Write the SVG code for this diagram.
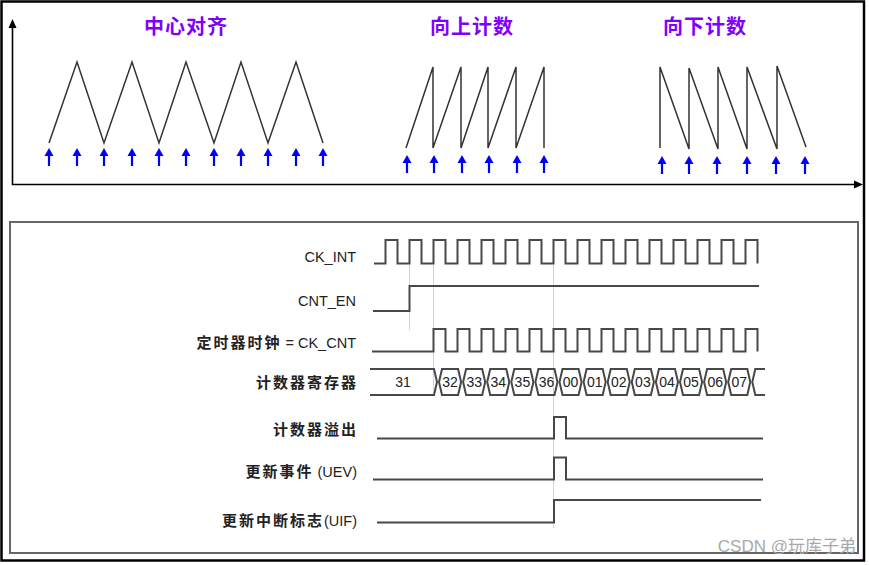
<svg xmlns="http://www.w3.org/2000/svg" width="869" height="565" viewBox="0 0 869 565">
<style>
  .title{font-family:"Noto Sans CJK SC","Liberation Sans",sans-serif;font-size:20px;font-weight:bold;fill:#8000ff;text-anchor:middle;letter-spacing:1px}
  .saw{fill:none;stroke:#333;stroke-width:1.5;stroke-linejoin:miter}
  .axis{fill:none;stroke:#000;stroke-width:1.6}
  .wave{fill:none;stroke:#484848;stroke-width:2;stroke-linejoin:miter}
  .guide{fill:none;stroke:#d4d4d4;stroke-width:1}
  .lbl{font-family:"Liberation Sans","Noto Sans CJK SC",sans-serif;font-size:14.5px;fill:#222;text-anchor:end}
  .cj{font-family:"Noto Sans CJK SC",sans-serif;font-size:15px;font-weight:bold;letter-spacing:2px}
  .num{font-family:"Liberation Sans",sans-serif;font-size:14px;fill:#222;text-anchor:middle}
  .wm{font-family:"Liberation Sans","Noto Sans CJK SC",sans-serif;font-size:17px;fill:#a8a8a8;text-anchor:end}
</style>
<defs>
  <g id="barrow">
    <path d="M0,0 L4.5,8 L-4.5,8 Z" fill="#0000ff"/>
    <rect x="-1.1" y="6" width="2.2" height="12" fill="#0000ff"/>
  </g>
</defs>
<rect x="0" y="0" width="869" height="565" fill="#fff"/>
<rect id="frame" x="1.5" y="1.5" width="862.5" height="559" fill="none" stroke="#000" stroke-width="2.5"/>

<!-- top: counting modes -->
<g id="axes">
  <path class="axis" d="M12.5,27 V184.5 H855"/>
  <path d="M12.5,19 L8.5,28 L16.5,28 Z" fill="#000"/>
  <path d="M863,184.5 L854,180.5 L854,188.5 Z" fill="#000"/>
</g>

<g id="center-aligned">
  <text class="title" x="186" y="34">中心对齐</text>
  <path class="saw" d="M49,143 L77,62 L104,143 L132,62 L159,143 L186,62 L214,143 L241,62 L268,143 L296,62 L323,143"/>
  <g transform="translate(0,148)">
    <use href="#barrow" x="49"/><use href="#barrow" x="77"/><use href="#barrow" x="104"/><use href="#barrow" x="132"/>
    <use href="#barrow" x="159"/><use href="#barrow" x="186"/><use href="#barrow" x="214"/><use href="#barrow" x="241"/>
    <use href="#barrow" x="268"/><use href="#barrow" x="296"/><use href="#barrow" x="323"/>
  </g>
</g>

<g id="up-counting">
  <text class="title" x="472" y="34">向上计数</text>
  <path class="saw" d="M406,148 L433,67 V148 L461,67 V148 L488,67 V148 L516,67 V148 L544,67 V148"/>
  <g transform="translate(0,155)">
    <use href="#barrow" x="407"/><use href="#barrow" x="434"/><use href="#barrow" x="462"/>
    <use href="#barrow" x="489"/><use href="#barrow" x="517"/><use href="#barrow" x="544"/>
  </g>
</g>

<g id="down-counting">
  <text class="title" x="705" y="34">向下计数</text>
  <path class="saw" d="M660,148 V67 L689,149 V68 L718,149 V67 L747,149 V67 L777,149 V66 L806,147"/>
  <g transform="translate(0,156)">
    <use href="#barrow" x="662"/><use href="#barrow" x="689"/><use href="#barrow" x="717"/>
    <use href="#barrow" x="747"/><use href="#barrow" x="776"/><use href="#barrow" x="805"/>
  </g>
</g>

<!-- bottom: timing diagram -->
<rect id="timing-box" x="10" y="222" width="848" height="331" fill="none" stroke="#666" stroke-width="2"/>

<g id="connectors">
  <path class="guide" d="M409.5,258 V330"/>
  <path class="guide" d="M433.5,263 V393"/>
  <path class="guide" d="M553.5,262 V528"/>
</g>

<g id="ck-int">
  <text class="lbl" x="356" y="262">CK_INT</text>
  <path class="wave" d="M374,263.5 H385.5 V240 H397.5 V263.5 H409.5 V240 H421.5 V263.5 H433.5 V240 H445.5 V263.5 H457.5 V240 H469.5 V263.5 H481.5 V240 H493.5 V263.5 H505.5 V240 H517.5 V263.5 H529.5 V240 H541.5 V263.5 H553.5 V240 H565.5 V263.5 H577.5 V240 H589.5 V263.5 H601.5 V240 H613.5 V263.5 H625.5 V240 H637.5 V263.5 H649.5 V240 H661.5 V263.5 H673.5 V240 H685.5 V263.5 H697.5 V240 H709.5 V263.5 H721.5 V240 H733.5 V263.5 H745.5 V240 H757.5 V263.5"/>
</g>

<g id="cnt-en">
  <text class="lbl" x="356" y="305.5">CNT_EN</text>
  <path class="wave" d="M373,311 H409.5 V286 H759"/>
</g>

<g id="ck-cnt">
  <text class="lbl" x="356" y="347.5"><tspan class="cj">定时器时钟</tspan> = CK_CNT</text>
  <path class="wave" d="M372,351.5 H433.5 V329 H445.5 V351.5 H457.5 V329 H469.5 V351.5 H481.5 V329 H493.5 V351.5 H505.5 V329 H517.5 V351.5 H529.5 V329 H541.5 V351.5 H553.5 V329 H565.5 V351.5 H577.5 V329 H589.5 V351.5 H601.5 V329 H613.5 V351.5 H625.5 V329 H637.5 V351.5 H649.5 V329 H661.5 V351.5 H673.5 V329 H685.5 V351.5 H697.5 V329 H709.5 V351.5 H721.5 V329 H733.5 V351.5 H745.5 V329 H757.5 V351.5"/>
</g>

<g id="counter-register">
  <text class="lbl" x="358" y="388"><tspan class="cj">计数器寄存器</tspan></text>
  <g class="wave">
    <path d="M370,369 H434 L437,382 L434,395 H370"/>
    <polygon points="439,382 442,369 458.1,369 461.1,382 458.1,395 442,395"/>
    <polygon points="463.1,382 466.1,369 482.2,369 485.2,382 482.2,395 466.1,395"/>
    <polygon points="487.2,382 490.2,369 506.3,369 509.3,382 506.3,395 490.2,395"/>
    <polygon points="511.3,382 514.3,369 530.4,369 533.4,382 530.4,395 514.3,395"/>
    <polygon points="535.4,382 538.4,369 554.5,369 557.5,382 554.5,395 538.4,395"/>
    <polygon points="559.5,382 562.5,369 578.6,369 581.6,382 578.6,395 562.5,395"/>
    <polygon points="583.6,382 586.6,369 602.7,369 605.7,382 602.7,395 586.6,395"/>
    <polygon points="607.7,382 610.7,369 626.8,369 629.8,382 626.8,395 610.7,395"/>
    <polygon points="631.8,382 634.8,369 650.9,369 653.9,382 650.9,395 634.8,395"/>
    <polygon points="655.9,382 658.9,369 675,369 678,382 675,395 658.9,395"/>
    <polygon points="680,382 683,369 699.1,369 702.1,382 699.1,395 683,395"/>
    <polygon points="704.1,382 707.1,369 723.2,369 726.2,382 723.2,395 707.1,395"/>
    <polygon points="728.2,382 731.2,369 747.3,369 750.3,382 747.3,395 731.2,395"/>
    <path d="M765,369 H755.3 L752.3,382 L755.3,395 H765"/>
  </g>
  <text class="num" x="403" y="387">31</text>
  <text class="num" x="450" y="387">32</text>
  <text class="num" x="474.2" y="387">33</text>
  <text class="num" x="498.3" y="387">34</text>
  <text class="num" x="522.4" y="387">35</text>
  <text class="num" x="546.5" y="387">36</text>
  <text class="num" x="570.6" y="387">00</text>
  <text class="num" x="594.7" y="387">01</text>
  <text class="num" x="618.8" y="387">02</text>
  <text class="num" x="642.9" y="387">03</text>
  <text class="num" x="667" y="387">04</text>
  <text class="num" x="691.1" y="387">05</text>
  <text class="num" x="715.2" y="387">06</text>
  <text class="num" x="739.3" y="387">07</text>
</g>

<g id="overflow">
  <text class="lbl" x="358" y="435"><tspan class="cj">计数器溢出</tspan></text>
  <path class="wave" d="M377,438.5 H554 V417 H566 V438.5 H763"/>
</g>

<g id="uev">
  <text class="lbl" x="357" y="476.5"><tspan class="cj">更新事件</tspan> (UEV)</text>
  <path class="wave" d="M373,479.5 H554 V457.5 H566 V479.5 H763"/>
</g>

<g id="uif">
  <text class="lbl" x="357" y="525.5"><tspan class="cj">更新中断标志</tspan>(UIF)</text>
  <path class="wave" d="M377,522.5 H554 V500 H761"/>
</g>

<text class="wm" x="856" y="552">CSDN @玩库子弟</text>
</svg>
